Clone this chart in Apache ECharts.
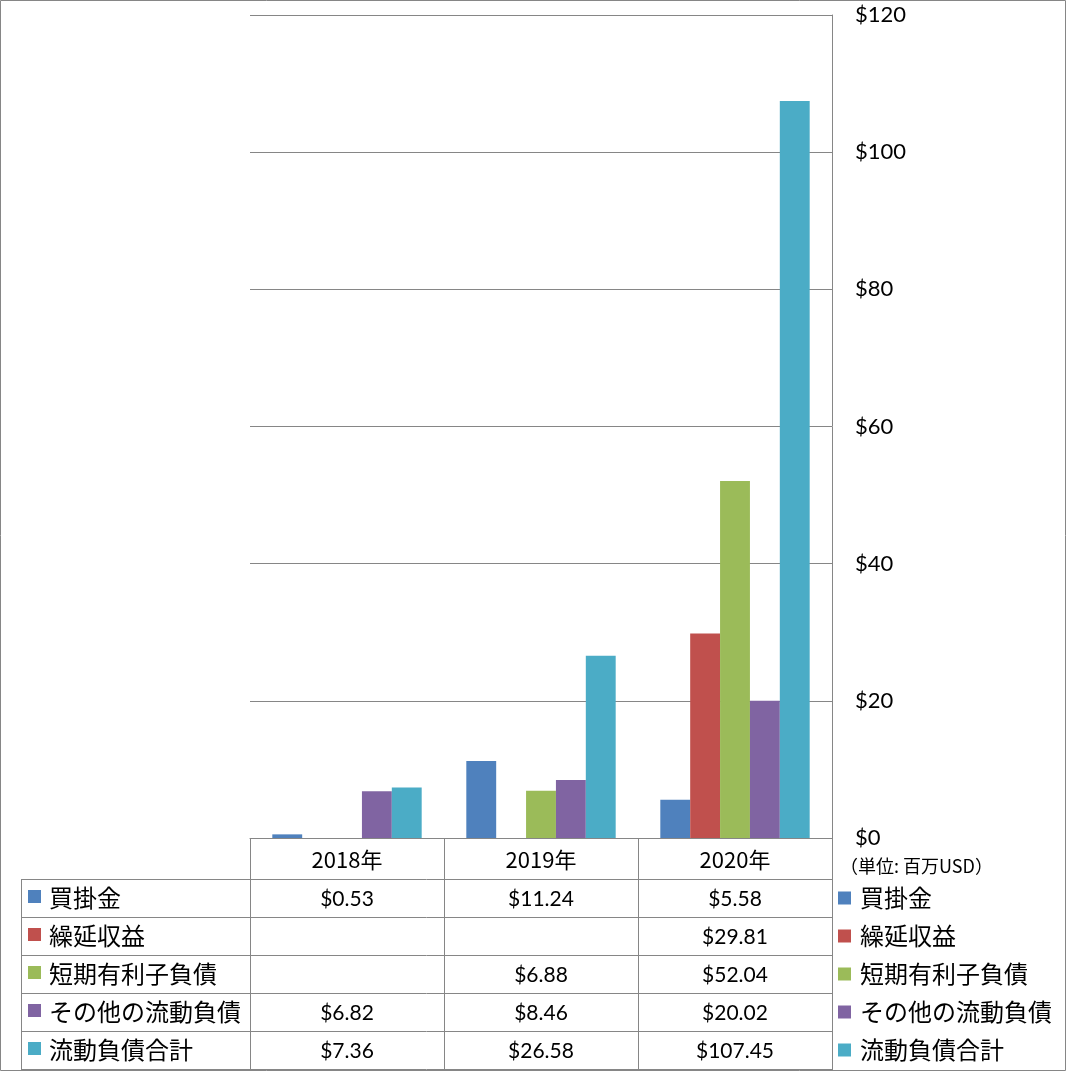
<!DOCTYPE html>
<html>
<head>
<meta charset="utf-8">
<script src="https://cdn.jsdelivr.net/npm/echarts@6/dist/echarts.min.js"></script>
<style>
html,body{margin:0;padding:0;background:#fff;}
#chart{width:1066px;height:1071px;}
</style>
</head>
<body>
<div id="chart"></div>
<script>
const categories = ['2018年', '2019年', '2020年'];
const seriesNames = ['買掛金', '繰延収益', '短期有利子負債', 'その他の流動負債', '流動負債合計'];
const accountsPayable = [0.53, 11.24, 5.58];
const deferredRevenue = [null, null, 29.81];
const shortTermDebt = [null, 6.88, 52.04];
const otherCurrentLiabilities = [6.82, 8.46, 20.02];
const totalCurrentLiabilities = [7.36, 26.58, 107.45];
const yMin = 0, yMax = 120, yInterval = 20;
const unitLabel = '（単位: 百万USD）';
const colors = ['#4F81BD', '#C0504D', '#9BBB59', '#8064A2', '#4BACC6'];

const seriesData = [accountsPayable, deferredRevenue, shortTermDebt, otherCurrentLiabilities, totalCurrentLiabilities];
const LINE = '#868686';
const NUM_FONT = 'Lato, "Open Sans", sans-serif';
const JP_FONT = '"Noto Sans CJK JP", sans-serif';

const chart = echarts.init(document.getElementById('chart'), null, {renderer: 'canvas'});

const option = {
  animation: false,
  color: colors,
  grid: {left: 250, right: 234, top: 15, bottom: 233, containLabel: false},
  legend: {
    orient: 'vertical',
    left: 838,
    top: 886,
    padding: 0,
    itemWidth: 13,
    itemHeight: 13,
    itemGap: 14,
    icon: 'rect',
    selectedMode: false,
    textStyle: {fontSize: 24, lineHeight: 24, color: '#000', fontFamily: JP_FONT, padding: [0, 0, 0, 4]},
    data: seriesNames
  },
  xAxis: {
    type: 'category',
    data: categories,
    axisLine: {show: true, lineStyle: {color: LINE, width: 1}},
    axisTick: {show: false},
    axisLabel: {show: false},
    splitLine: {show: false}
  },
  yAxis: {
    type: 'value',
    position: 'right',
    min: yMin,
    max: yMax,
    interval: yInterval,
    axisLine: {show: true, lineStyle: {color: LINE, width: 1}},
    axisTick: {show: false},
    axisLabel: {
      margin: 23,
      color: '#000',
      fontSize: 22,
      fontFamily: NUM_FONT,
      formatter: v => '$' + v
    },
    splitLine: {show: true, lineStyle: {color: LINE, width: 1}}
  },
  series: seriesNames.map((name, i) => ({
    name: name,
    type: 'bar',
    data: seriesData[i],
    barGap: '0%',
    barCategoryGap: '23%',
    itemStyle: {color: colors[i]}
  }))
};
chart.setOption(option);

// Build the data table from the arrays, positioned via the chart's own axis
const centers = categories.map((c, i) => chart.convertToPixel({xAxisIndex: 0}, i));
const band = centers.length > 1 ? centers[1] - centers[0] : 194;
const bounds = [centers[0] - band / 2].concat(centers.map(c => c + band / 2));
const baseY = chart.convertToPixel({yAxisIndex: 0}, 0);
const tableLeft = 21;
const headerBottom = 879;
const rowH = 38;
const rowTops = seriesNames.map((n, i) => headerBottom + i * rowH);
const tableBottom = headerBottom + seriesNames.length * rowH;

const g = [];
function hline(x1, x2, y) {
  g.push({type: 'line', shape: {x1: x1, y1: Math.round(y) + 0.5, x2: x2, y2: Math.round(y) + 0.5}, style: {stroke: LINE, lineWidth: 1}, silent: true});
}
function vline(x, y1, y2) {
  g.push({type: 'line', shape: {x1: Math.round(x) + 0.5, y1: y1, x2: Math.round(x) + 0.5, y2: y2}, style: {stroke: LINE, lineWidth: 1}, silent: true});
}
for (let i = 0; i <= seriesNames.length; i++) hline(tableLeft, bounds[bounds.length - 1], headerBottom + i * rowH);
vline(tableLeft, headerBottom, tableBottom + 1);
bounds.forEach(b => vline(b, baseY, tableBottom + 1));
categories.forEach((c, i) => {
  g.push({type: 'text', x: centers[i], y: (baseY + headerBottom) / 2 + 1, silent: true,
    style: {text: c, fontSize: 22, fontFamily: JP_FONT, fill: '#000', align: 'center', verticalAlign: 'middle'}});
});
seriesNames.forEach((name, r) => {
  const cy = rowTops[r] + rowH / 2;
  g.push({type: 'rect', shape: {x: 28, y: Math.round(cy) - 8, width: 13, height: 13}, style: {fill: colors[r]}, silent: true});
  g.push({type: 'text', x: 49, y: cy, silent: true,
    style: {text: name, fontSize: 24, fontFamily: JP_FONT, fill: '#000', align: 'left', verticalAlign: 'middle'}});
  seriesData[r].forEach((v, i) => {
    if (v === null || v === undefined) return;
    g.push({type: 'text', x: centers[i], y: cy + 1, silent: true,
      style: {text: '$' + v.toFixed(2), fontSize: 21, fontFamily: NUM_FONT, fill: '#000', align: 'center', verticalAlign: 'middle'}});
  });
});
g.push({type: 'text', x: 840, y: 866, silent: true,
  style: {text: unitLabel, fontSize: 18, fontFamily: JP_FONT, fill: '#000', align: 'left', verticalAlign: 'middle'}});
g.push({type: 'rect', shape: {x: 0.5, y: 0.5, width: 1065, height: 1070}, style: {fill: 'none', stroke: LINE, lineWidth: 1}, silent: true, z: 100});

chart.setOption({graphic: g});
</script>
</body>
</html>
